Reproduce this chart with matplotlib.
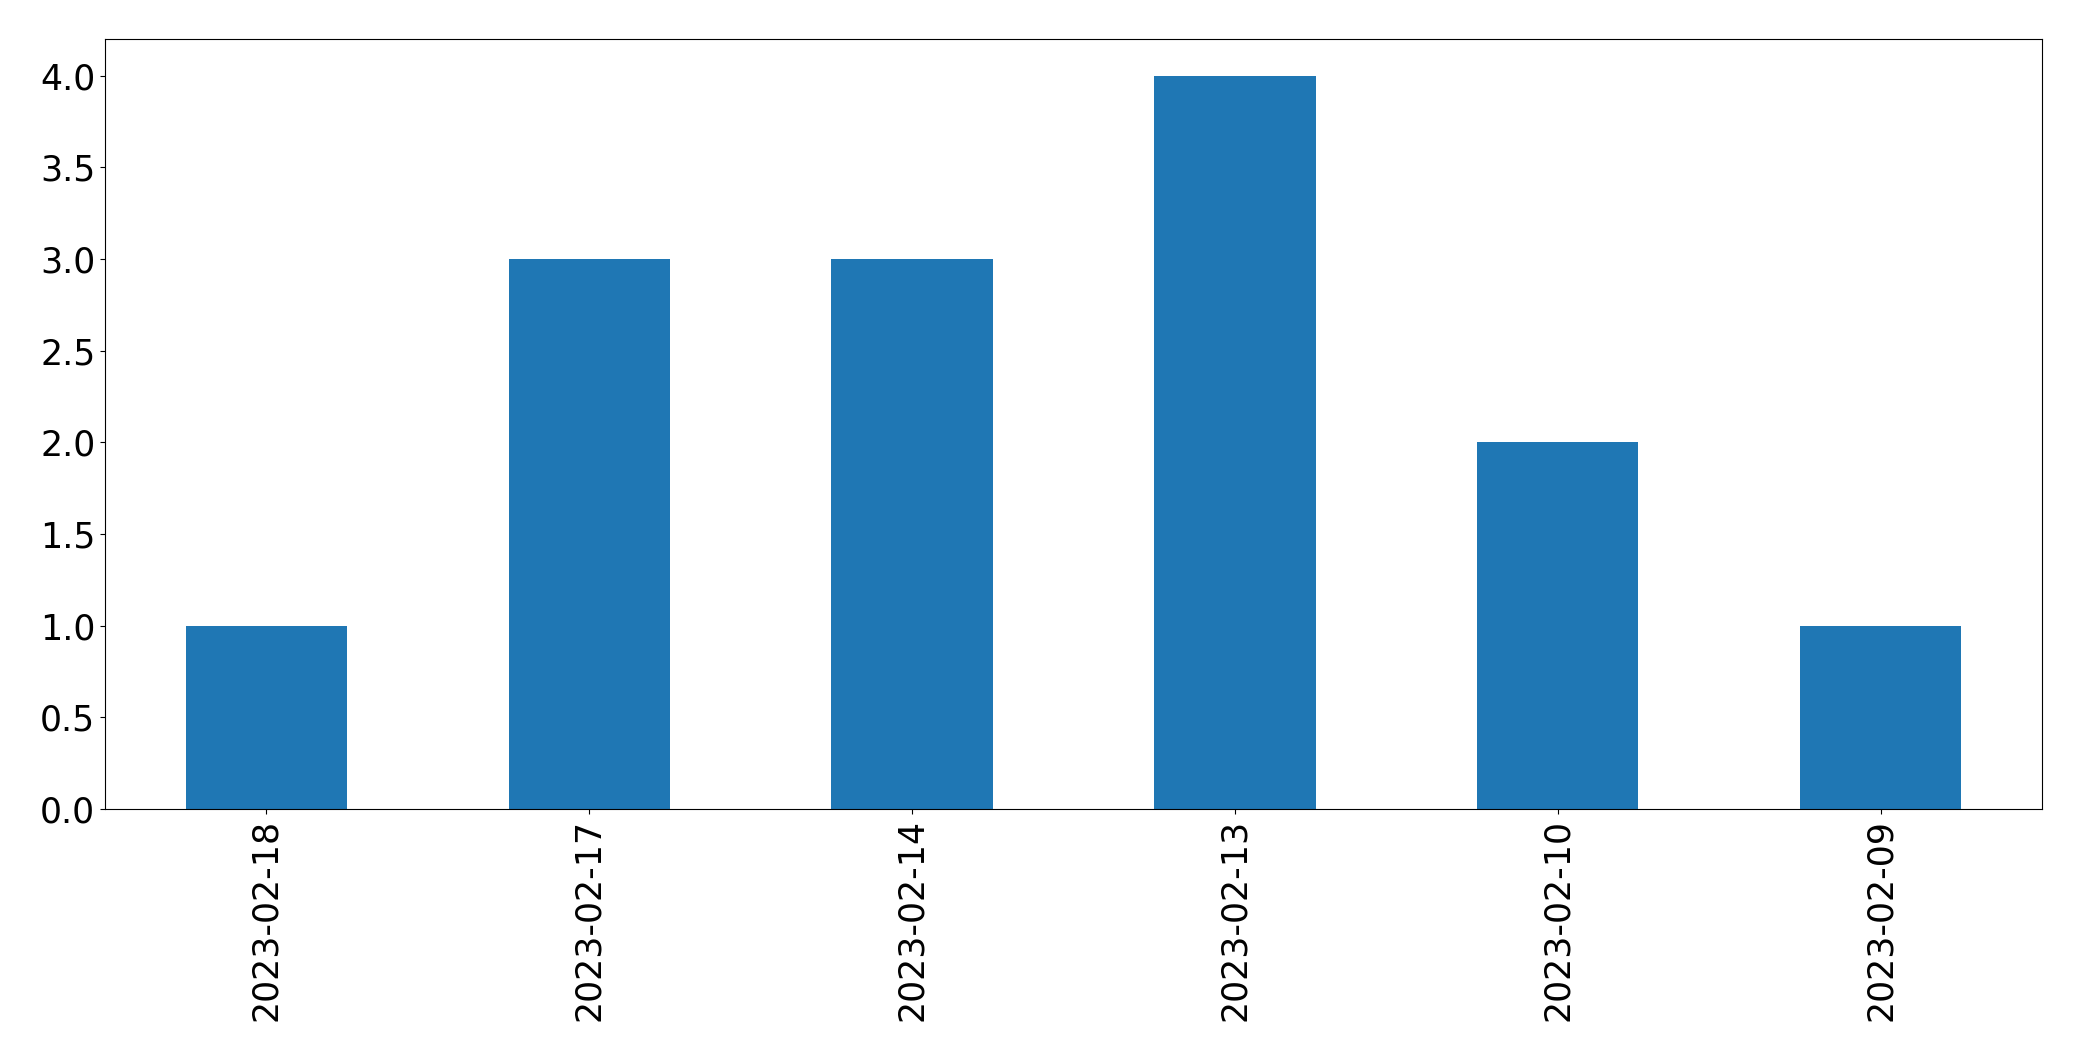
import matplotlib
matplotlib.use("Agg")
import matplotlib.pyplot as plt
import pandas as pd

dates = ["2023-02-18", "2023-02-17", "2023-02-14", "2023-02-13", "2023-02-10", "2023-02-09"]
counts = [1, 3, 3, 4, 2, 1]


def main():
    s = pd.Series(counts, index=dates)
    fig, ax = plt.subplots(figsize=(20.82, 10.61), dpi=100)
    s.plot(kind="bar", ax=ax, fontsize=25)
    fig.subplots_adjust(left=105 / 2082, right=2042 / 2082, top=1 - 39 / 1061, bottom=1 - 809 / 1061)
    fig.savefig("out.png", dpi=100)


if __name__ == '__main__':
    main()
